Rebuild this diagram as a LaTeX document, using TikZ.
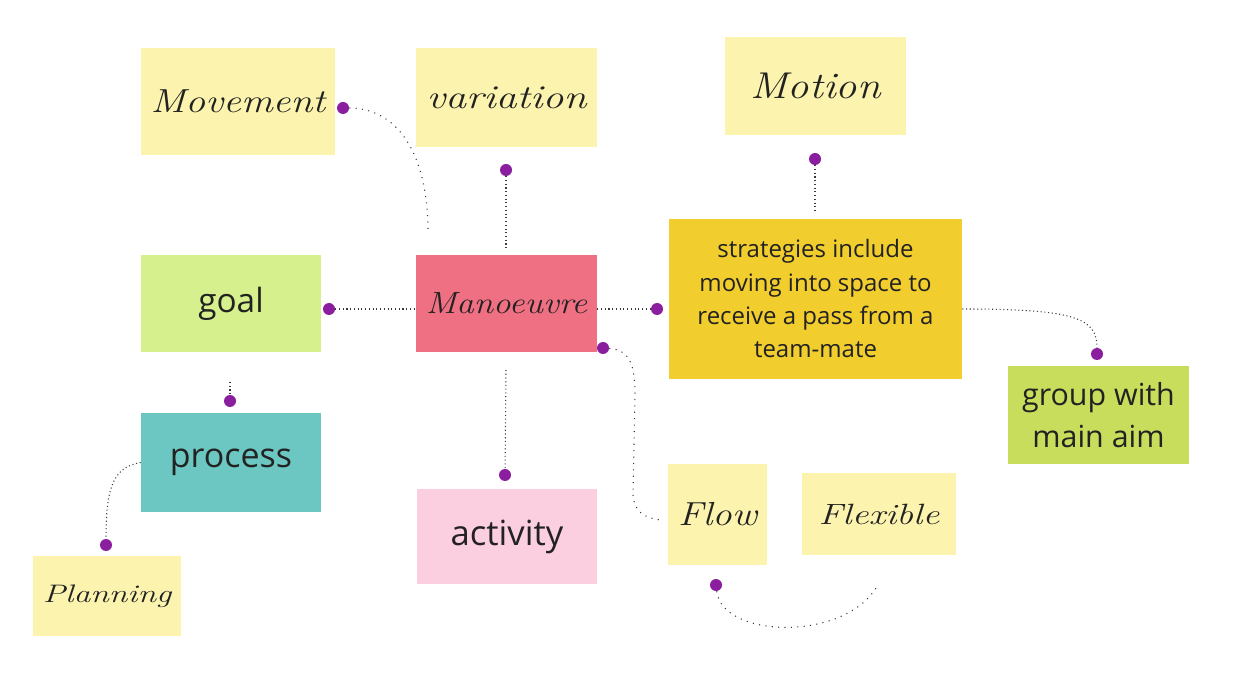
\documentclass[tikz,border=0pt]{standalone}
\usepackage{fontspec}
\usepackage{graphicx}
\setsansfont{Open Sans}
\definecolor{stickyY}{HTML}{FCF4AE}
\definecolor{goalG}{HTML}{D5F08C}
\definecolor{manR}{HTML}{EF7083}
\definecolor{stratY}{HTML}{F2CD2E}
\definecolor{groupG}{HTML}{C8DD5C}
\definecolor{procT}{HTML}{6CC7C2}
\definecolor{actP}{HTML}{FCCFE0}
\definecolor{dotP}{HTML}{8A1E9E}
\definecolor{txt}{HTML}{222222}
\definecolor{lineC}{HTML}{3A3A3A}
\tikzset{
  note/.style n args={3}{rectangle, inner sep=0pt, fill=#1,
     minimum width=#2*0.75pt, minimum height=#3*0.75pt, text=txt, align=center},
  hand/.style={font=\fontsize{#1}{#1}\selectfont\itshape},
  sans/.style 2 args={font=\sffamily\fontsize{#1}{#2}\selectfont},
  dotn/.style={circle, fill=dotP, inner sep=0pt, minimum size=9pt},
  conn/.style={draw=lineC, line width=0.8pt, dotted},
  sparse/.style={draw=lineC, line width=0.8pt, loosely dotted},
}
\begin{document}
\begin{tikzpicture}[x=0.75pt,y=-0.75pt]
\useasboundingbox (0,0) rectangle (1249,680);
% notes
\node[note={stickyY}{194}{107}, hand=25pt] (mov) at (238,101.5) {\scalebox{1.19}[1]{Movement}};
\node[note={stickyY}{181}{99}, hand=25pt] (var) at (506.5,97.5) {\scalebox{1.25}[1]{variation}};
\node[note={stickyY}{181}{98}, hand=28pt] (mot) at (815.5,86) {\scalebox{1.14}[1]{Motion}};
\node[note={goalG}{180}{97}, sans={25pt}{30pt}] (goal) at (231,303.5) {goal};
\node[note={manR}{181}{97}, hand=23pt] (man) at (506.5,303.5) {\scalebox{1.14}[1]{Manoeuvre}};
\node[note={stratY}{293}{160}, sans={18pt}{25pt}] (str) at (815.5,299) {strategies include\\moving into space to\\receive a pass from a\\team-mate};
\node[note={groupG}{181}{98}, sans={22.8pt}{31.5pt}] (grp) at (1098.5,415) {group with\\main aim};
\node[note={procT}{180}{99}, sans={25.5pt}{30pt}] (proc) at (231,462.5) {process};
\node[note={actP}{180}{95}, sans={26pt}{30pt}] (act) at (507,536.5) {activity};
\node[note={stickyY}{99}{101}, hand=25pt] (flow) at (717.5,514.5) {\scalebox{1.16}[1]{Flow}};
\node[note={stickyY}{154}{82}, hand=22pt] (flex) at (879,514) {\scalebox{1.27}[1]{Flexible}};
\node[note={stickyY}{148}{80}, hand=19pt] (plan) at (107,596) {\scalebox{1.33}[1]{Planning}};
% dots
\node[dotn] (dmov) at (343,108) {};
\node[dotn] (dvar) at (506,170) {};
\node[dotn] (dmot) at (815,159) {};
\node[dotn] (dgoal) at (329,309) {};
\node[dotn] (dstr) at (657,309) {};
\node[dotn] (dgrp) at (1097,354) {};
\node[dotn] (dproc) at (230,401) {};
\node[dotn] (dplan) at (106,545) {};
\node[dotn] (dact) at (505,475) {};
\node[dotn] (dman) at (603,348) {};
\node[dotn] (dflow) at (716,585) {};
% free ends
\coordinate (emov) at (428,232);
\coordinate (evar) at (506,249);
\coordinate (emot) at (815,212);
\coordinate (egoal) at (230,382);
\coordinate (eact) at (506,370);
\coordinate (eflow) at (660,520);
\coordinate (eflex) at (876,588);
% connectors
\draw[sparse] (dmov) .. controls (395,108) and (428,150) .. (emov);
\draw[conn] (dvar) -- (evar);
\draw[conn] (dmot) -- (emot);
\draw[conn] (dgoal) -- (dgoal -| man.west);
\draw[conn] (dstr -| man.east) -- (dstr);
\draw[conn] (dgoal -| str.east) .. controls (1075,309) and (1097,318) .. (dgrp);
\draw[conn] (egoal) -- (dproc);
\draw[conn] (proc.west) .. controls (112,467) and (106,490) .. (dplan);
\draw[conn] (eact) -- (dact);
\draw[sparse] (dman) .. controls (630,350) and (635,365) .. (635,395) -- (633,495) .. controls (634,512) and (645,518) .. (eflow);
\draw[sparse] (dflow) .. controls (722,638) and (842,642) .. (eflex);
\end{tikzpicture}
\end{document}
